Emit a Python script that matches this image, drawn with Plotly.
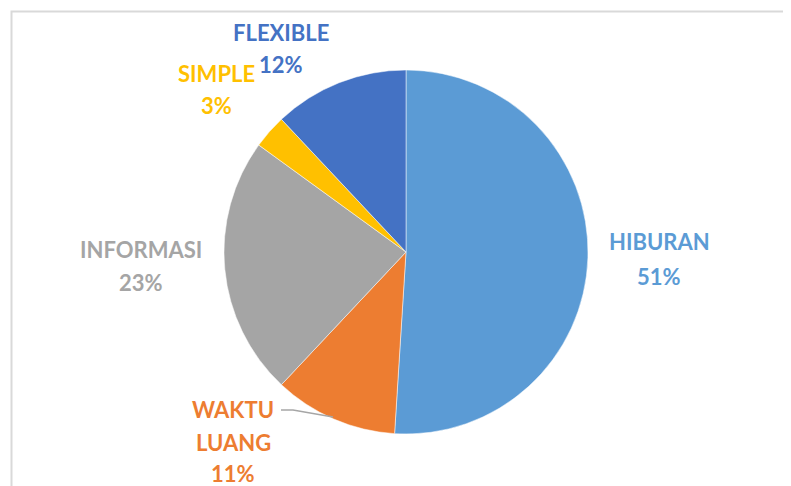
import plotly.graph_objects as go

W, H = 791, 486
OFF = 8  # page body margin in the browser

labels = ["HIBURAN", "WAKTU LUANG", "INFORMASI", "SIMPLE", "FLEXIBLE"]
values = [51, 11, 23, 3, 12]
colors = ["#5B9BD5", "#ED7D31", "#A5A5A5", "#FFC000", "#4472C4"]

# label text lines and their pixel centres (x, y from top of window)
label_lines = [
    (["HIBURAN", "51%"], 659, [242, 276], "#5B9BD5"),
    (["WAKTU", "LUANG", "11%"], 233, [409, 442, 473], "#ED7D31"),
    (["INFORMASI", "23%"], 141, [249, 282], "#A5A5A5"),
    (["SIMPLE", "3%"], 217, [73, 105], "#FFC000"),
    (["FLEXIBLE", "12%"], 281, [32, 64], "#4472C4"),
]

cx, cy, r = 406, 252, 182


def px_x(x):
    return (x - OFF) / W


def px_y(y):
    return 1 - (y - OFF) / H


fig = go.Figure()
fig.add_trace(go.Pie(
    labels=labels,
    values=values,
    sort=False,
    direction="clockwise",
    rotation=0,
    marker=dict(colors=colors, line=dict(color="white", width=0.5)),
    textinfo="none",
    hoverinfo="label+percent",
    showlegend=False,
    domain=dict(x=[px_x(cx - r), px_x(cx + r)], y=[px_y(cy + r), px_y(cy - r)]),
))

for lines, x, ys, col in label_lines:
    for txt, y in zip(lines, ys):
        fig.add_annotation(
            x=px_x(x), y=px_y(y), xref="paper", yref="paper",
            text=txt, showarrow=False, xanchor="center", yanchor="middle",
            font=dict(family="Lato", size=22, color=col, weight="bold"),
        )

# leader line for WAKTU LUANG
fig.add_shape(type="path", xref="paper", yref="paper",
              path=f"M {px_x(281)} {px_y(410)} L {px_x(293)} {px_y(410)} L {px_x(333)} {px_y(417)}",
              line=dict(color="#A6A6A6", width=1.5))

# chart area border
fig.add_shape(type="rect", xref="paper", yref="paper",
              x0=px_x(11.5), y0=-0.05, x1=1.05, y1=px_y(11.5),
              line=dict(color="#D9D9D9", width=2), layer="below")

fig.update_layout(
    width=W, height=H,
    margin=dict(l=0, r=0, t=0, b=0),
    paper_bgcolor="white",
    plot_bgcolor="white",
)

fig.write_html("out.html")
